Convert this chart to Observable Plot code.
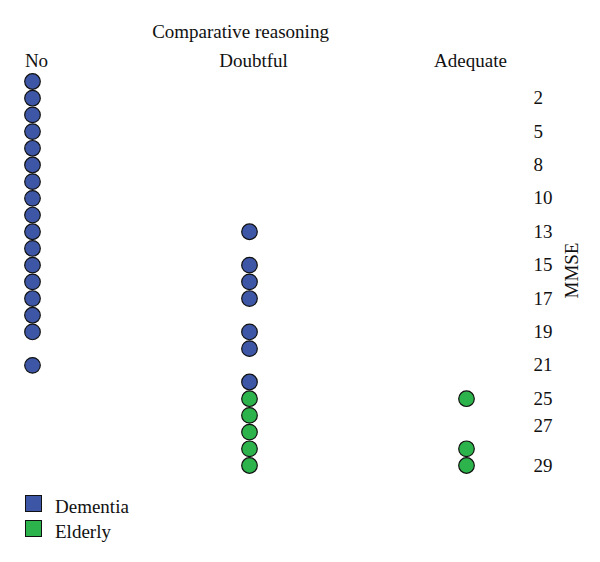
<!DOCTYPE html>
<html>
<head>
<meta charset="utf-8">
<script src="https://cdn.jsdelivr.net/npm/d3@7"></script>
<script src="https://cdn.jsdelivr.net/npm/@observablehq/plot@0.6"></script>
<style>
  body { margin: 0; background: #fff; font-family: "Liberation Serif", "DejaVu Serif", serif; }
  #chart svg { display: block; }
  .legend { margin-left: 25px; margin-top: 14px; }
  .legend .item { display: flex; align-items: center; height: 25px; font-size: 19px; color: #111; }
  .legend .sw { width: 15px; height: 15px; border: 1.2px solid #111; margin-right: 13px; margin-top: -6px; }
</style>
</head>
<body>
<div id="chart"></div>
<div class="legend" id="legend"></div>
<script>
// Columns (comparative reasoning categories)
const categories = ["No", "Doubtful", "Adequate"];
const groups = ["Dementia", "Elderly"];
const groupColors = ["#3d56a6", "#2db34b"];

// Row slot (rank by MMSE, top = lowest) of each participant, per column and group
const noDementiaRows = [0, 1, 2, 3, 4, 5, 6, 7, 8, 9, 10, 11, 12, 13, 14, 15, 17];
const noElderlyRows = [];
const doubtfulDementiaRows = [9, 11, 12, 13, 15, 16, 18];
const doubtfulElderlyRows = [19, 20, 21, 22, 23];
const adequateDementiaRows = [];
const adequateElderlyRows = [19, 22, 23];

// MMSE tick labels on the right and the row slot each one sits at
const mmseTickLabels = ["2", "5", "8", "10", "13", "15", "17", "19", "21", "25", "27", "29"];
const mmseTickRows = [1, 3, 5, 7, 9, 11, 13, 15, 17, 19, 20.6, 23];

const data = [];
function add(cat, grp, rows) { rows.forEach(r => data.push({category: cat, group: grp, row: r})); }
add("No", "Dementia", noDementiaRows);
add("No", "Elderly", noElderlyRows);
add("Doubtful", "Dementia", doubtfulDementiaRows);
add("Doubtful", "Elderly", doubtfulElderlyRows);
add("Adequate", "Dementia", adequateDementiaRows);
add("Adequate", "Elderly", adequateElderlyRows);

const chart = Plot.plot({
  width: 600,
  height: 480,
  marginTop: 70,
  marginRight: 70,
  marginLeft: -50,
  marginBottom: 10,
  style: {fontFamily: "'Liberation Serif', 'DejaVu Serif', serif", fontSize: "19px", color: "#111", background: "#fff"},
  x: {type: "point", domain: categories, range: [32, 466], padding: 0},
  y: {domain: [0, 23], range: [81, 465]},
  color: {domain: groups, range: groupColors},
  marks: [
    Plot.axisX({anchor: "top", tickSize: 0, tickPadding: 4, dx: 4, label: "Comparative reasoning", labelAnchor: "center", labelOffset: 46, labelArrow: "none", fontSize: 19}),
    Plot.axisY({anchor: "right", ticks: mmseTickRows, tickFormat: (d) => mmseTickLabels[mmseTickRows.indexOf(d)], tickSize: 0, tickPadding: 3, label: "MMSE", labelAnchor: "center", labelOffset: 47, labelArrow: "none", fontSize: 19}),
    Plot.dot(data, {x: "category", y: "row", fill: "group", stroke: "#111", strokeWidth: 1.2, r: 7.8})
  ]
});
document.getElementById("chart").appendChild(chart);

const legend = document.getElementById("legend");
groups.forEach((g, i) => {
  const item = document.createElement("div");
  item.className = "item";
  const sw = document.createElement("span");
  sw.className = "sw";
  sw.style.background = groupColors[i];
  item.appendChild(sw);
  item.appendChild(document.createTextNode(g));
  legend.appendChild(item);
});
</script>
</body>
</html>
